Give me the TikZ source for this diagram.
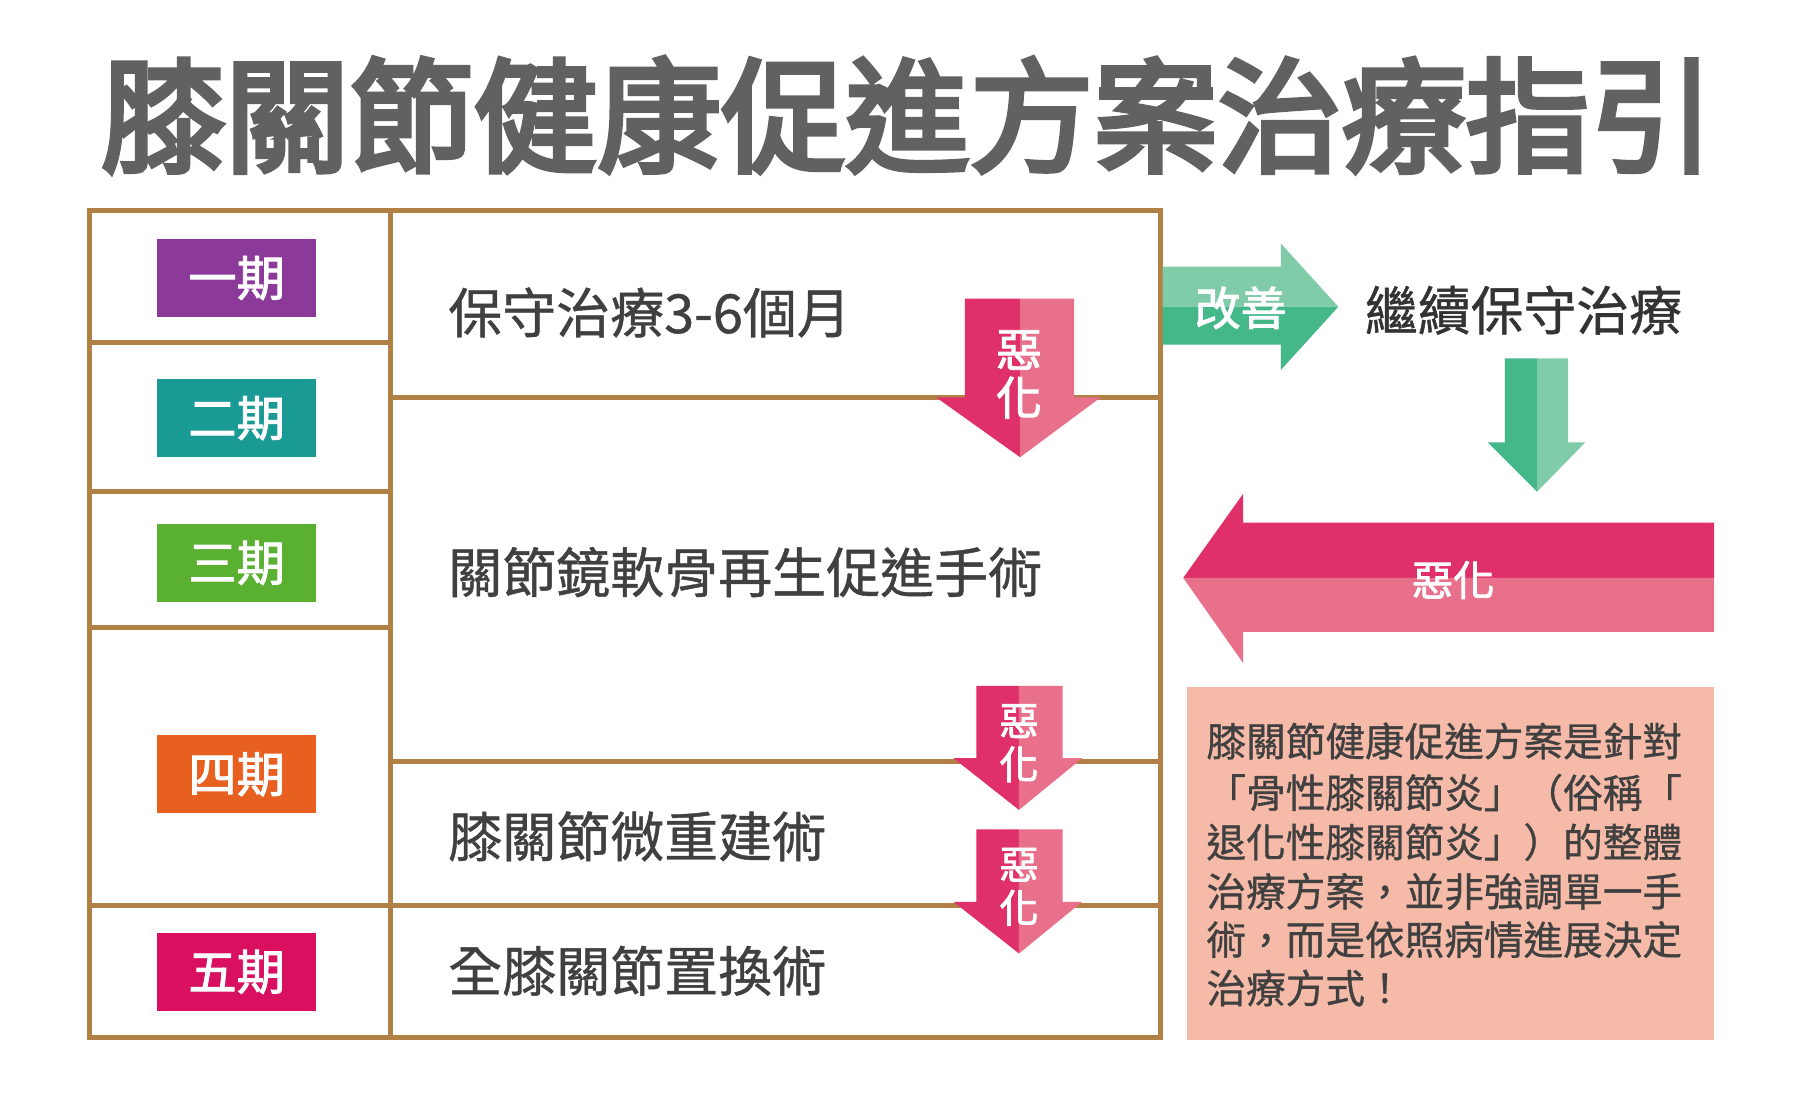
\documentclass[tikz,border=0pt]{standalone}
\usepackage{fontspec}
\setmainfont{Noto Sans CJK TC}
\newfontfamily\cjkb{Noto Sans CJK TC}[FakeBold=2]
\newfontfamily\cjkm{Noto Sans CJK TC}[FakeBold=0.8]
\newfontfamily\cjkh{Noto Sans CJK TC}[FakeBold=4]
\definecolor{brd}{HTML}{B08045}
\definecolor{pk}{HTML}{E0306A}
\definecolor{pkl}{HTML}{E8708A}
\definecolor{gn}{HTML}{45B88A}
\definecolor{gnl}{HTML}{80CCA8}
\definecolor{tx}{HTML}{404040}
\definecolor{sal}{HTML}{F5BBA8}
\definecolor{c1}{HTML}{8B3A9A}
\definecolor{c2}{HTML}{1A9A95}
\definecolor{c3}{HTML}{5AB030}
\definecolor{c4}{HTML}{E86020}
\definecolor{c5}{HTML}{D8105F}
\tikzset{x=1pt,y=-1pt,
 badge/.style={minimum width=139pt,minimum height=68pt,inner sep=0pt,text=white,font=\cjkb\fontsize{42}{42}\selectfont},
 rowtxt/.style={anchor=west,text=tx,inner sep=0pt,font=\cjkm\fontsize{47}{47}\selectfont},
 arrtxt/.style={text=white,inner sep=0pt,font=\cjkb\fontsize{40}{42}\selectfont,align=center},
 para/.style={anchor=west,text=tx,inner sep=0pt,font=\cjkm\fontsize{34.5}{34}\selectfont}}
\begin{document}
\begin{tikzpicture}
\useasboundingbox (0,0) rectangle (1566,960);
\fill[white] (0,0) rectangle (1566,960);
\node[text=black!62,font=\cjkh\fontsize{108}{110}\selectfont,inner sep=0pt] (title) at (790,100) {膝關節健康促進方案治療指引};
% table
\draw[brd,line width=4pt] (78,183) rectangle (1010,903);
\draw[brd,line width=4pt] (340,183) -- (340,903);
\foreach \y in {298,428,546,788} \draw[brd,line width=4pt] (78,\y) -- (340,\y);
\foreach \y in {346,663,788} \draw[brd,line width=4pt] (340,\y) -- (1010,\y);
\node[badge,fill=c1] (b1) at (206,242) {一期};
\node[badge,fill=c2] (b2) at (206,364) {二期};
\node[badge,fill=c3] (b3) at (206,490) {三期};
\node[badge,fill=c4] (b4) at (206,674) {四期};
\node[badge,fill=c5] (b5) at (206,846) {五期};
\node[rowtxt] (r1) at (390,272) {保守治療3-6個月};
\node[rowtxt] (r2) at (390,498) {關節鏡軟骨再生促進手術};
\node[rowtxt] (r3) at (390,728) {膝關節微重建術};
\node[rowtxt] (r4) at (390,845) {全膝關節置換術};
% pink down arrows
\fill[pk] (840,260) -- (888,260) -- (888,398) -- (815,346) -- (840,346) -- cycle;
\fill[pkl] (888,260) -- (935,260) -- (935,346) -- (958,346) -- (888,398) -- cycle;
\node[arrtxt] (a1) at (887,326) {惡\\化};
\foreach \t/\n in {597/a2,722/a3}{
 \fill[pk] (850,\t) -- (887,\t) -- (887,\t+108) -- (830,\t+63) -- (850,\t+63) -- cycle;
 \fill[pkl] (887,\t) -- (925,\t) -- (925,\t+63) -- (942,\t+63) -- (887,\t+108) -- cycle;
 \node[arrtxt,font=\cjkb\fontsize{34}{38}\selectfont] (\n) at (887,\t+50) {惡\\化};}
% green arrow right
\fill[gnl] (1012,232) -- (1115,232) -- (1115,212) -- (1165,267) -- (1012,267) -- cycle;
\fill[gn] (1012,267) -- (1165,267) -- (1115,322) -- (1115,300) -- (1012,300) -- cycle;
\node[arrtxt] (g1) at (1080,268) {改善};
\node[anchor=west,text=black!80,inner sep=0pt,font=\cjkm\fontsize{46}{46}\selectfont] (cont) at (1188,270) {繼續保守治療};
\fill[gn] (1310,312) -- (1338,312) -- (1338,428) -- (1295,385) -- (1310,385) -- cycle;
\fill[gnl] (1338,312) -- (1365,312) -- (1365,385) -- (1380,385) -- (1338,428) -- cycle;
% big left arrow
\fill[pk] (1030,503) -- (1082,430) -- (1082,455) -- (1492,455) -- (1492,503) -- cycle;
\fill[pkl] (1030,503) -- (1492,503) -- (1492,550) -- (1082,550) -- (1082,577) -- cycle;
\node[arrtxt,font=\cjkb\fontsize{36}{36}\selectfont] (a4) at (1265,505) {惡化};
% salmon box
\fill[sal] (1033,598) rectangle (1492,905);
\node[para] (p1) at (1050,645) {膝關節健康促進方案是針對};
\node[para] (p2) at (1050,690) {「骨性膝關節炎」（俗稱「};
\node[para] (p3) at (1050,733) {退化性膝關節炎」）的整體};
\node[para] (p4) at (1050,776) {治療方案，並非強調單一手};
\node[para] (p5) at (1050,818) {術，而是依照病情進展決定};
\node[para] (p6) at (1050,860) {治療方式！};
\end{tikzpicture}
\end{document}
